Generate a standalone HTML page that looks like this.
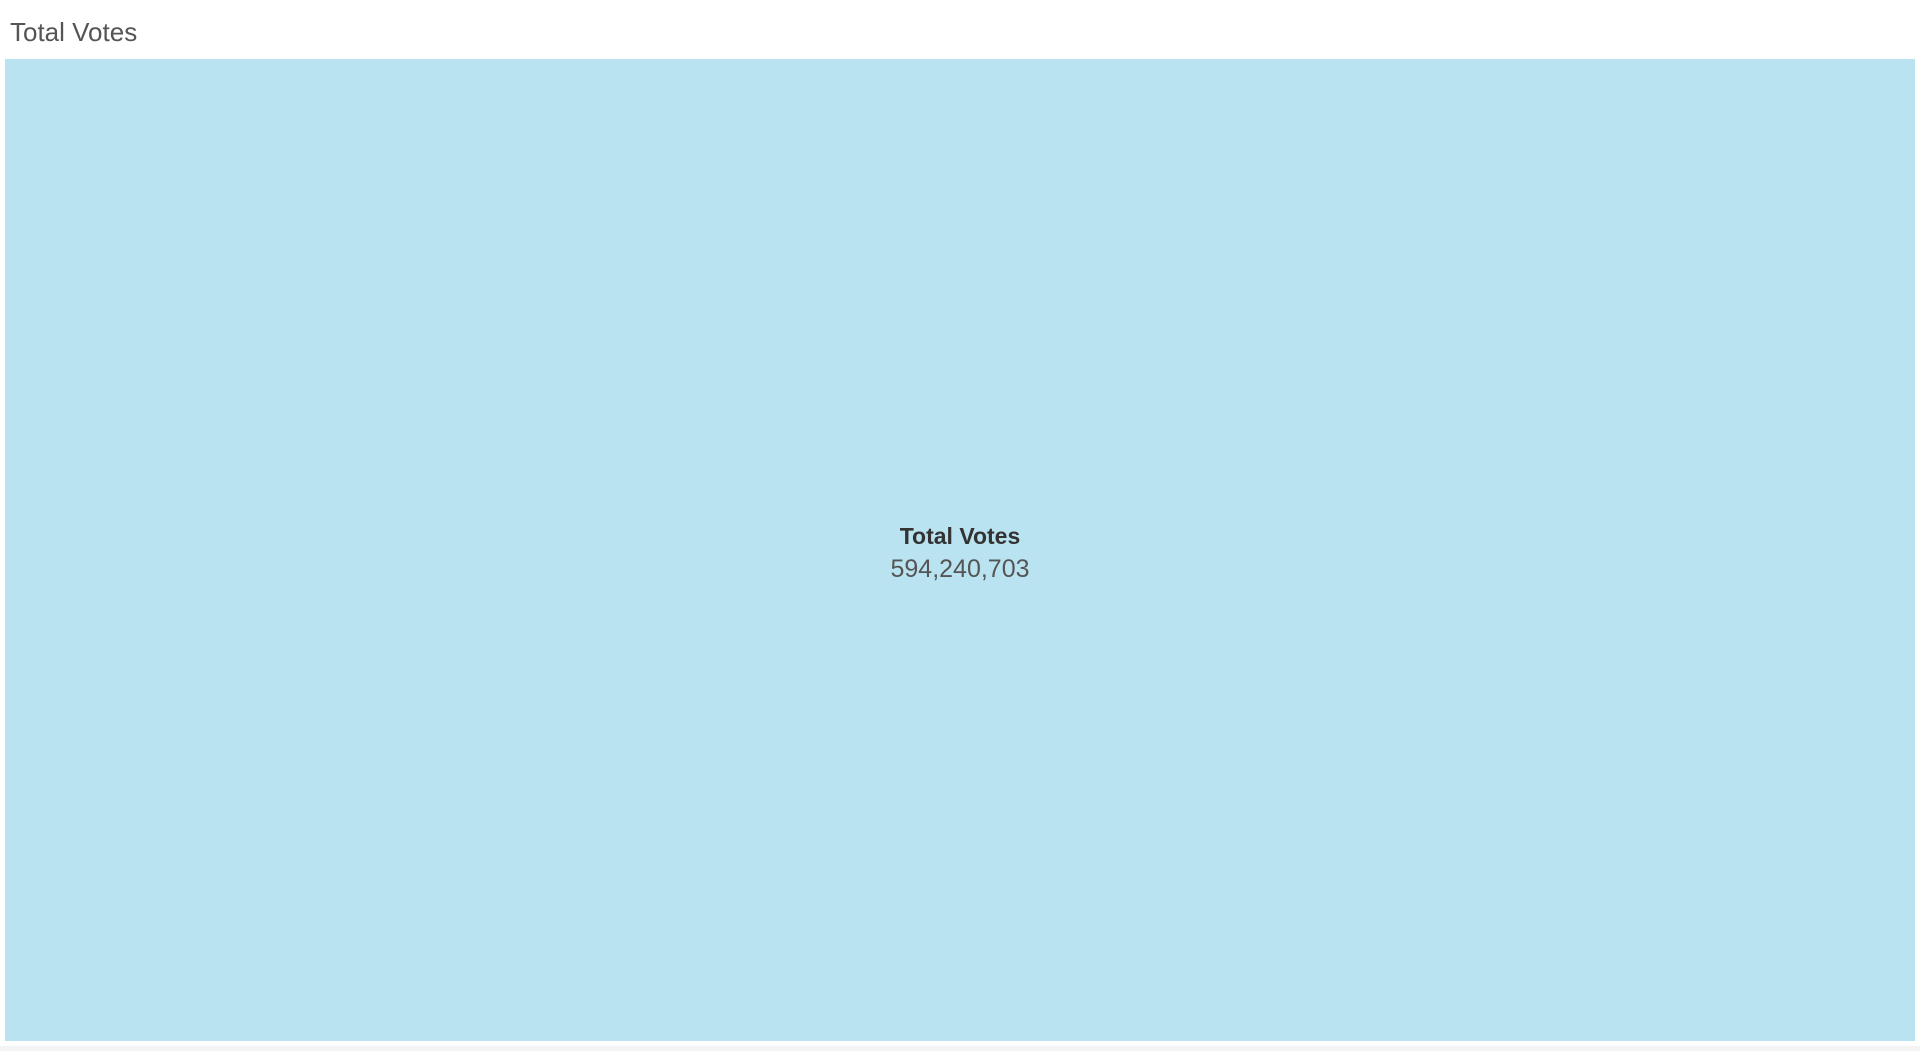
<!DOCTYPE html>
<html><head><meta charset="utf-8"><style>
html,body{margin:0;padding:0;width:1920px;height:1051px;background:#fff;overflow:hidden;font-family:"Liberation Sans",sans-serif}
#title{position:absolute;left:10px;top:17px;font-size:26px;color:#555;}
#tile{position:absolute;left:5px;top:59px;width:1910px;height:982px;background:#bae3f1}
#lab{position:absolute;left:0;right:0;top:461px;text-align:center;color:#333}
#strip{position:absolute;left:0;top:1046px;width:1920px;height:5px;background:#f4f4f4}
</style></head><body>
<div id="title">Total Votes</div>
<div id="tile">
 <div id="lab">
  <div style="font-size:23px;font-weight:bold;color:#333;line-height:33px">Total Votes</div>
  <div id="val" style="font-size:25px;color:#555;line-height:33px"></div>
 </div>
</div>
<div id="strip"></div>
<script>
const categories=["Total Votes"];
const values=[594240703];
document.getElementById('val').textContent=values[0].toLocaleString('en-US');
</script>
</body></html>
